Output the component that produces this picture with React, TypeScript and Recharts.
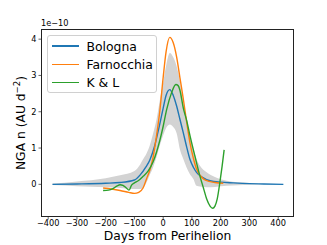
import { ComposedChart, XAxis, YAxis, Line, Area } from 'recharts';

// Bologna fit (days from perihelion, NGA n in units of 1e-10)
const bolognaDays = [-385, -300, -200, -150, -100, -80, -60, -46, -30, -15, 0, 10, 23, 35, 47, 58, 70, 82, 93, 105, 116, 135, 163, 200, 244, 300, 350, 418];
const bolognaNga = [0, 0.01, 0.03, 0.05, 0.12, 0.26, 0.48, 0.68, 1.05, 1.55, 2.1, 2.45, 2.61, 2.45, 2.15, 1.8, 1.42, 1.02, 0.69, 0.47, 0.33, 0.2, 0.1, 0.06, 0.04, 0.02, 0.01, 0];

const farnocchiaDays = [-209, -180, -150, -120, -100, -85, -70, -58, -46, -35, -23, -12, 0, 10, 23, 35, 47, 58, 70, 82, 93, 105, 116, 128, 140, 160, 180, 209];
const farnocchiaNga = [-0.1, -0.13, -0.17, -0.22, -0.25, -0.22, -0.1, 0.15, 0.4, 0.75, 1.35, 2.0, 2.95, 3.65, 4.05, 3.9, 3.5, 2.95, 2.35, 1.7, 1.15, 0.72, 0.42, 0.25, 0.15, 0.08, 0.05, 0.03];

const klDays = [-209, -190, -175, -160, -150, -140, -128, -119, -110, -100, -87, -70, -52, -35, -12, 0, 12, 29, 44, 52, 58, 70, 82, 93, 110, 128, 140, 151, 163, 172, 180, 188, 198, 205, 212];
const klNga = [-0.17, -0.16, -0.12, -0.04, -0.01, -0.03, -0.1, -0.16, -0.02, 0.04, 0.1, 0.22, 0.37, 0.62, 1.2, 1.6, 2.06, 2.52, 2.75, 2.72, 2.6, 2.1, 1.75, 1.35, 0.79, 0.22, -0.1, -0.4, -0.6, -0.66, -0.6, -0.4, 0.1, 0.5, 0.95];

// grey spread band
const bandDays = [-385, -300, -200, -150, -100, -80, -70, -58, -47, -35, -23, -12, 0, 12, 23, 35, 47, 58, 70, 81, 93, 105, 116, 128, 151, 180, 221, 300, 395];
const bandLow = [-0.02, -0.05, -0.08, -0.1, -0.13, -0.13, -0.1, 0.05, 0.25, 0.47, 0.75, 1.06, 1.35, 1.58, 1.65, 1.58, 1.4, 0.97, 0.7, 0.47, 0.28, 0.15, -0.04, -0.06, -0.08, -0.07, -0.04, -0.01, 0];
const bandHigh = [0.02, 0.08, 0.17, 0.25, 0.37, 0.55, 0.69, 0.85, 1.06, 1.4, 1.79, 2.3, 2.8, 3.34, 3.62, 3.5, 3.25, 2.85, 2.2, 1.7, 1.3, 0.97, 0.7, 0.51, 0.33, 0.2, 0.1, 0.04, 0.01];

const xTicks = [-400, -300, -200, -100, 0, 100, 200, 300, 400];
const yTicks = [0, 1, 2, 3, 4];

const toPoints = (days: number[], vals: number[]) => days.map((x, i) => ({ x, y: vals[i] }));

const series = [
  { name: 'Bologna', color: '#1f77b4', data: toPoints(bolognaDays, bolognaNga) },
  { name: 'Farnocchia', color: '#ff7f0e', data: toPoints(farnocchiaDays, farnocchiaNga) },
  { name: 'K & L', color: '#2ca02c', data: toPoints(klDays, klNga) },
];
const band = bandDays.map((x, i) => ({ x, range: [bandLow[i], bandHigh[i]] }));

const FONT = '"DejaVu Sans", sans-serif';
const fmtTick = (v: number) => String(v).replace('-', '\u2212');

const LegendBox = () => (
  <div
    style={{
      position: 'absolute',
      left: 47,
      top: 35,
      width: 110,
      height: 58,
      border: '1px solid #d0d0d0',
      borderRadius: 3,
      background: 'rgba(255,255,255,0.8)',
      fontFamily: FONT,
      fontSize: 12.4,
      paddingTop: 1,
      boxSizing: 'border-box',
    }}
  >
    {series.map((s) => (
      <div key={s.name} style={{ display: 'flex', alignItems: 'center', height: 18.2, whiteSpace: 'nowrap' }}>
        <div style={{ width: 27, height: 1.4, background: s.color, marginLeft: 4, marginRight: 7.5, flex: 'none' }} />
        <span style={{ color: '#000' }}>{s.name}</span>
      </div>
    ))}
  </div>
);

export default function App() {
  return (
    <div style={{ position: 'absolute', left: 0, top: 0, width: 327, height: 245, background: '#fff' }}>
      <ComposedChart width={327} height={245} margin={{ top: 29, right: 33, left: 0, bottom: 0 }}>
        <XAxis
          dataKey="x"
          type="number"
          domain={[-425, 455]}
          ticks={xTicks}
          allowDataOverflow
          height={28}
          axisLine={false}
          tickLine={{ stroke: '#000', strokeWidth: 0.6 }}
          tickSize={2.5}
          tickMargin={1}
          tickFormatter={fmtTick}
          tick={{ fill: '#000', fontSize: 8.2, fontFamily: FONT }}
          label={{ value: 'Days from Perihelion', position: 'insideBottom', offset: 5, fill: '#000', fontSize: 12.3, fontFamily: FONT }}
        />
        <YAxis
          type="number"
          domain={[-0.9, 4.28]}
          ticks={yTicks}
          allowDataOverflow
          width={41}
          axisLine={false}
          tickLine={{ stroke: '#000', strokeWidth: 0.6 }}
          tickSize={2.5}
          tickMargin={2}
          tick={{ fill: '#000', fontSize: 8.2, fontFamily: FONT }}
          label={{
            content: (props: any) => {
              const vb = props.viewBox || { x: 0, y: 29, width: 41, height: 188 };
              const cx = vb.x + 21;
              const cy = vb.y + vb.height / 2;
              return (
                <text x={cx} y={cy} transform={`rotate(-90 ${cx} ${cy})`} textAnchor="middle" dominantBaseline="central" fontSize={12.3} fontFamily={FONT} fill="#000">
                  NGA n (AU d<tspan dy={-4.5} fontSize={8.6}>−2</tspan><tspan dy={4.5}>)</tspan>
                </text>
              );
            },
          }}
        />
        <Area
          data={band}
          dataKey="range"
          type="monotone"
          stroke="none"
          fill="#d3d3d3"
          fillOpacity={1}
          isAnimationActive={false}
          legendType="none"
          dot={false}
          activeDot={false}
        />
        {series.map((s) => (
          <Line
            key={s.name}
            data={s.data}
            dataKey="y"
            name={s.name}
            type="monotone"
            stroke={s.color}
            strokeWidth={1.4}
            dot={false}
            activeDot={false}
            isAnimationActive={false}
          />
        ))}
      </ComposedChart>
      <div
        style={{
          position: 'absolute',
          left: 41,
          top: 29,
          width: 253,
          height: 188,
          border: '0.8px solid #222',
          boxSizing: 'border-box',
          pointerEvents: 'none',
        }}
      />
      <LegendBox />
      <div style={{ position: 'absolute', left: 41, top: 18, fontSize: 8.2, fontFamily: FONT, color: '#000' }}>1e−10</div>
    </div>
  );
}
